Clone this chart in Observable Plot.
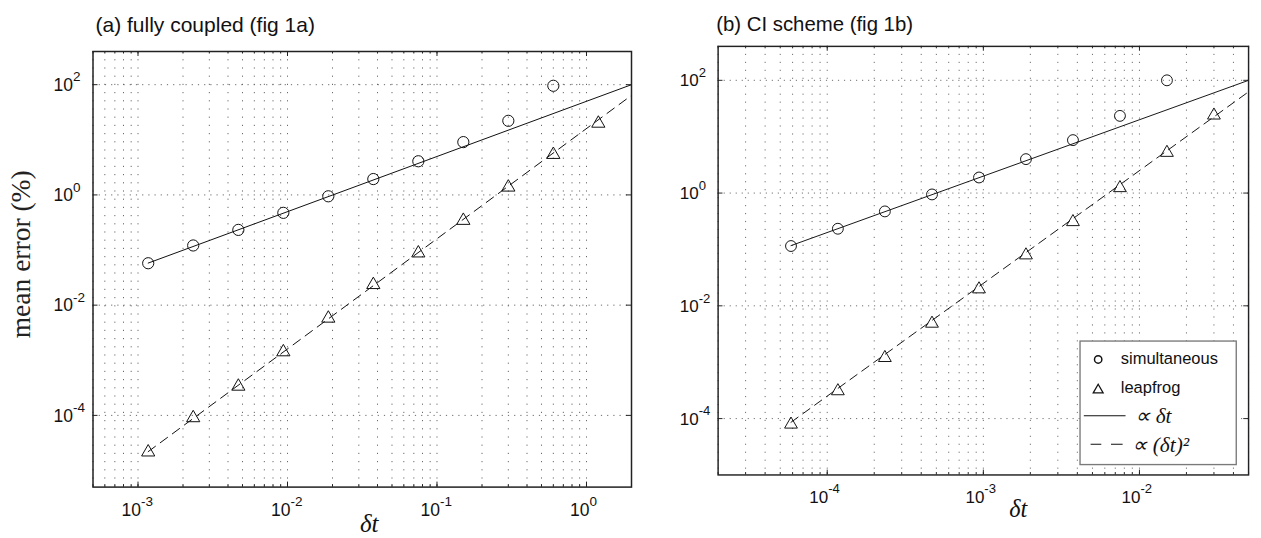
<!DOCTYPE html>
<html><head><meta charset="utf-8">
<script src="https://cdn.jsdelivr.net/npm/d3@7"></script>
<script src="https://cdn.jsdelivr.net/npm/@observablehq/plot@0.6"></script>
<style>
html,body{margin:0;padding:0;background:#fff;overflow:hidden;}
#wrap{position:relative;width:1261px;height:538px;overflow:hidden;background:#fff;}
#wrap > div{position:absolute;top:0;}
</style></head><body>
<div id="wrap"><div id="pa" style="left:0px"></div><div id="pb" style="left:640px"></div></div>
<script>
// ---------- Panel (a): fully coupled ----------
const titleA = "(a) fully coupled (fig 1a)";
const dtA_sim   = [0.00117, 0.00234, 0.00469, 0.00938, 0.01875, 0.0375, 0.075, 0.15, 0.3, 0.6];
const errA_sim  = [0.0576, 0.121, 0.232, 0.473, 0.944, 1.94, 4.08, 9.08, 22.1, 95.5];
const dtA_leap  = [0.00117, 0.00234, 0.00469, 0.00938, 0.01875, 0.0375, 0.075, 0.15, 0.3, 0.6, 1.2];
const errA_leap = [2.33e-5, 9.75e-5, 3.64e-4, 1.53e-3, 6.24e-3, 0.0254, 0.0951, 0.371, 1.49, 5.83, 21.5];
const fitA_linDt  = [0.00117, 2];
const fitA_linErr = [0.058, 100];
const fitA_sqDt   = [0.00117, 2];
const fitA_sqErr  = [2.2e-5, 64];
const xDomainA = [5e-4, 2];
const yDomainA = [5e-6, 400];
const xTickExpA = [-3, -2, -1, 0];
const yTickExpA = [-4, -2, 0, 2];

// ---------- Panel (b): CI scheme ----------
const titleB = "(b) CI scheme (fig 1b)";
const dtB_sim   = [5.86e-5, 1.17e-4, 2.34e-4, 4.69e-4, 9.38e-4, 1.875e-3, 3.75e-3, 7.5e-3, 0.015];
const errB_sim  = [0.115, 0.233, 0.473, 0.946, 1.89, 4.0, 8.7, 23.4, 100];
const dtB_leap  = [5.86e-5, 1.17e-4, 2.34e-4, 4.69e-4, 9.38e-4, 1.875e-3, 3.75e-3, 7.5e-3, 0.015, 0.03];
const errB_leap = [8.5e-5, 3.32e-4, 1.29e-3, 5.24e-3, 0.0213, 0.0853, 0.332, 1.33, 5.62, 25.8];
const fitB_linDt  = [5.86e-5, 0.05];
const fitB_linErr = [0.117, 100];
const fitB_sqDt   = [5.86e-5, 0.05];
const fitB_sqErr  = [8.6e-5, 62.6];
const xDomainB = [2e-5, 5e-2];
const yDomainB = [1e-5, 400];
const xTickExpB = [-4, -3, -2];
const yTickExpB = [-4, -2, 0, 2];

// ---------- Labels ----------
const yLabel = "mean error (%)";
const xLabel = "δt";
const legendLabels = ["simultaneous", "leapfrog", "∝ δt", "∝ (δt)²"];

const SANS = "Liberation Sans, Arial, Helvetica, sans-serif";
const SERIF = "Liberation Serif, Times New Roman, serif";

function minorTicks(lo, hi) {
  const out = [];
  for (let e = Math.floor(Math.log10(lo)) - 1; e <= Math.ceil(Math.log10(hi)); e++)
    for (let m = 1; m <= 9; m++) {
      const v = m * Math.pow(10, e);
      if (v >= lo * 0.9999 && v <= hi * 1.0001) out.push(v);
    }
  return out;
}
const zipXY = (xs, ys) => xs.map((x, i) => ({x, y: ys[i]}));

const lineSym = {draw(ctx) { ctx.moveTo(-21.5, 0); ctx.lineTo(21.5, 0); }};
const dashSym = {draw(ctx) { ctx.moveTo(-14.5, 0); ctx.lineTo(-3.5, 0); ctx.moveTo(6.5, 0); ctx.lineTo(18.5, 0); }};

function panel(cfg) {
  const W = 640, H = 538;
  const innerW = W - cfg.mL - cfg.mR, innerH = H - cfg.mT - cfg.mB;
  const xMajor = cfg.xExp.map(e => Math.pow(10, e));
  const yMajor = cfg.yExp.map(e => Math.pow(10, e));
  const xMinor = minorTicks(cfg.xDomain[0], cfg.xDomain[1]);
  const expStr = e => String(e);
  const marks = [
    // grid
    Plot.ruleX(xMinor, {x: d => d, stroke: "#6a6a6a", strokeWidth: 1, strokeDasharray: "1.2,7"}),
    Plot.ruleY(yMajor, {y: d => d, stroke: "#6a6a6a", strokeWidth: 1, strokeDasharray: "1.2,5"}),
    // fits
    Plot.line(zipXY(cfg.linDt, cfg.linErr), {x: "x", y: "y", stroke: "#111", strokeWidth: 1}),
    Plot.line(zipXY(cfg.sqDt, cfg.sqErr), {x: "x", y: "y", stroke: "#111", strokeWidth: 1, strokeDasharray: "9,6"}),
    // data
    Plot.dot(zipXY(cfg.simDt, cfg.simErr), {x: "x", y: "y", symbol: "circle", r: 5.6, fill: "none", stroke: "#111", strokeWidth: 1}),
    Plot.dot(zipXY(cfg.leapDt, cfg.leapErr), {x: "x", y: "y", symbol: "triangle", r: 4.9, dy: 1.9, fill: "none", stroke: "#111", strokeWidth: 1}),
    // frame
    Plot.frame({stroke: "#222", strokeWidth: 1.5}),
    // ticks (inward)
    Plot.ruleX(xMajor, {x: d => d, insetTop: innerH - 5, stroke: "#222"}),
    Plot.ruleX(xMajor, {x: d => d, insetBottom: innerH - 5, stroke: "#222"}),
    Plot.ruleX(xMinor, {x: d => d, insetTop: innerH - 2.5, stroke: "#222"}),
    Plot.ruleX(xMinor, {x: d => d, insetBottom: innerH - 2.5, stroke: "#222"}),
    Plot.ruleY(yMajor, {y: d => d, insetRight: innerW - 5, stroke: "#222"}),
    Plot.ruleY(yMajor, {y: d => d, insetLeft: innerW - 5, stroke: "#222"}),
    // x tick labels
    Plot.text(xMajor, {x: d => d, frameAnchor: "bottom", text: () => "10", textAnchor: "end", lineAnchor: "bottom",
      dx: cfg.xLabDx, dy: 29, fontSize: 17.5, fontFamily: SANS, fill: "#111"}),
    Plot.text(cfg.xExp, {x: e => Math.pow(10, e), frameAnchor: "bottom", text: e => expStr(e), textAnchor: "start", lineAnchor: "bottom",
      dx: cfg.xLabDx, dy: 19, fontSize: 13.5, fontFamily: SANS, fill: "#111"}),
    // y tick labels
    Plot.text(yMajor, {y: d => d, frameAnchor: "left", text: () => "10", textAnchor: "end", lineAnchor: "bottom",
      dx: -20, dy: 6.2, fontSize: 17.5, fontFamily: SANS, fill: "#111"}),
    Plot.text(cfg.yExp, {y: e => Math.pow(10, e), frameAnchor: "left", text: e => expStr(e), textAnchor: "start", lineAnchor: "bottom",
      dx: -20, dy: -3.2, fontSize: 13.5, fontFamily: SANS, fill: "#111"}),
    // title
    Plot.text([cfg.title], {frameAnchor: "top-left", text: d => d, textAnchor: "start", lineAnchor: "bottom",
      dx: cfg.titleDx, dy: cfg.titleDy, fontSize: 21, fontFamily: SANS, fill: "#111"}),
    // x label
    Plot.text([xLabel], {frameAnchor: "bottom", text: d => d, textAnchor: "middle", lineAnchor: "bottom",
      dx: cfg.xLabelDx, dy: cfg.xLabelDy, fontSize: 25, fontStyle: "italic", fontFamily: SERIF, fill: "#111"})
  ];
  if (cfg.yLabel) {
    marks.push(Plot.text([yLabel], {frameAnchor: "left", text: d => d, rotate: -90, textAnchor: "middle", lineAnchor: "middle",
      dx: -72, dy: -15, fontSize: 27.5, fontFamily: SERIF, fill: "#222"}));
  }
  if (cfg.legend) {
    const A = "bottom-right";
    marks.push(
      Plot.frame({fill: "white", stroke: "#7a7a7a", strokeWidth: 1.4, insetLeft: 373, insetTop: 303.7, insetRight: 12.7, insetBottom: 10.7}),
      Plot.dot([0], {frameAnchor: A, dx: -155, dy: -119, symbol: "circle", r: 3.8, fill: "none", stroke: "#111", strokeWidth: 1.5}),
      Plot.dot([0], {frameAnchor: A, dx: -155, dy: -87.6, symbol: "triangle", r: 3.8, fill: "none", stroke: "#111", strokeWidth: 1.3}),
      Plot.dot([0], {frameAnchor: A, dx: -148.3, dy: -61, symbol: lineSym, fill: "none", stroke: "#111", strokeWidth: 1.1}),
      Plot.dot([0], {frameAnchor: A, dx: -148.3, dy: -31.7, symbol: dashSym, fill: "none", stroke: "#111", strokeWidth: 1.1}),
      Plot.text([legendLabels[0]], {frameAnchor: A, text: d => d, textAnchor: "start", lineAnchor: "bottom", dx: -131.7, dy: -114.7, fontSize: 17, fontFamily: SANS, fill: "#111"}),
      Plot.text([legendLabels[1]], {frameAnchor: A, text: d => d, textAnchor: "start", lineAnchor: "bottom", dx: -131.7, dy: -84, fontSize: 17, fontFamily: SANS, fill: "#111"}),
      Plot.text([legendLabels[2]], {frameAnchor: A, text: d => d, textAnchor: "start", lineAnchor: "bottom", dx: -116.7, dy: -54, fontSize: 22, fontStyle: "italic", fontFamily: SERIF, fill: "#111"}),
      Plot.text([legendLabels[3]], {frameAnchor: A, text: d => d, textAnchor: "start", lineAnchor: "bottom", dx: -119.7, dy: -24, fontSize: 22, fontStyle: "italic", fontFamily: SERIF, fill: "#111"})
    );
  }
  return Plot.plot({
    width: W, height: H,
    marginLeft: cfg.mL, marginRight: cfg.mR, marginTop: cfg.mT, marginBottom: cfg.mB,
    x: {type: "log", domain: cfg.xDomain, axis: null},
    y: {type: "log", domain: cfg.yDomain, axis: null},
    style: {fontFamily: SANS, background: "transparent", overflow: "visible"},
    marks
  });
}

document.getElementById("pa").appendChild(panel({
  title: titleA, mL: 92.5, mR: 9, mT: 51, mB: 51.4,
  xDomain: xDomainA, yDomain: yDomainA, xExp: xTickExpA, yExp: yTickExpA,
  simDt: dtA_sim, simErr: errA_sim, leapDt: dtA_leap, leapErr: errA_leap,
  linDt: fitA_linDt, linErr: fitA_linErr, sqDt: fitA_sqDt, sqErr: fitA_sqErr,
  xLabDx: 3, titleDx: 2.5, titleDy: -20, xLabelDx: 7, xLabelDy: 44.5, yLabel: true, legend: false
}));
document.getElementById("pb").appendChild(panel({
  title: titleB, mL: 80, mR: 13.3, mT: 47.3, mB: 49,
  xDomain: xDomainB, yDomain: yDomainB, xExp: xTickExpB, yExp: yTickExpB,
  simDt: dtB_sim, simErr: errB_sim, leapDt: dtB_leap, leapErr: errB_leap,
  linDt: fitB_linDt, linErr: fitB_linErr, sqDt: fitB_sqDt, sqErr: fitB_sqErr,
  xLabDx: 1, titleDx: -2, titleDy: -16.3, xLabelDx: 36, xLabelDy: 43, yLabel: false, legend: true
}));
</script>
</body></html>
